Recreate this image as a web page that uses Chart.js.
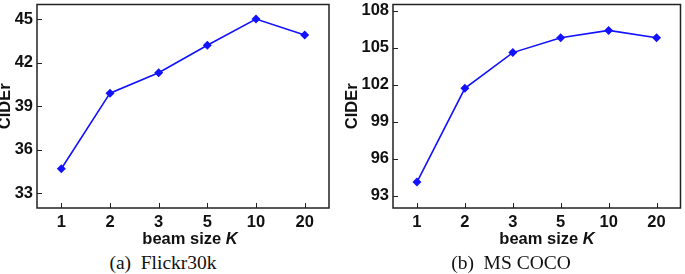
<!DOCTYPE html>
<html>
<head>
<meta charset="utf-8">
<script src="https://cdn.jsdelivr.net/npm/chart.js@4/dist/chart.umd.min.js"></script>
<style>
  html, body { margin:0; padding:0; background:#fff; width:685px; height:274px; overflow:hidden; }
  .wrap { position:absolute; top:0; }
  canvas { display:block; }
  .xlab { position:absolute; font: bold 16.5px "Liberation Sans", Arial, sans-serif; color:#111; white-space:nowrap; transform:translate(-50%,-50%); }
  .cap { position:absolute; font: 19.5px "Liberation Serif", "Times New Roman", serif; color:#111; white-space:nowrap; transform:translate(-50%,-50%); }
</style>
</head>
<body>
<div class="wrap" style="left:0px;width:340px;height:250px"><canvas id="c1" width="340" height="250"></canvas></div>
<div class="wrap" style="left:340px;width:345px;height:250px"><canvas id="c2" width="345" height="250"></canvas></div>
<div class="xlab" style="left:190px;top:238px">beam size <i>K</i></div>
<div class="xlab" style="left:547px;top:238px">beam size <i>K</i></div>
<div class="cap" style="left:163px;top:263px">(a)&nbsp; Flickr30k</div>
<div class="cap" style="left:511px;top:263px">(b)&nbsp; MS COCO</div>
<script>
const beamSizes = ['1', '2', '3', '5', '10', '20'];
const flickrCIDEr = [34.7, 39.9, 41.3, 43.2, 45.0, 43.9];
const cocoCIDEr = [94.1, 101.7, 104.6, 105.8, 106.4, 105.8];
const flickrTicks = [33, 36, 39, 42, 45];
const cocoTicks = [93, 96, 99, 102, 105, 108];

const FONT = { family: '"Liberation Sans", Arial, sans-serif', size: 16.5, weight: 'bold' };
const BLUE = 'rgb(18,18,255)';

const boxPlugin = {
  id: 'box',
  afterDraw(chart) {
    const a = chart.chartArea, ctx = chart.ctx;
    ctx.save();
    ctx.strokeStyle = '#222';
    ctx.lineWidth = 1;
    const xs = chart.scales.x, ys = chart.scales.y;
    ctx.beginPath();
    xs.ticks.forEach((t, i) => {
      const px = Math.round(xs.getPixelForTick(i)) + 0.5;
      ctx.moveTo(px, a.bottom); ctx.lineTo(px, a.bottom - 5);
    });
    ys.ticks.forEach((t) => {
      const py = Math.round(ys.getPixelForValue(t.value)) + 0.5;
      ctx.moveTo(a.left, py); ctx.lineTo(a.left + 5, py);
    });
    ctx.stroke();
    ctx.lineWidth = 1.5;
    ctx.strokeRect(a.left, a.top, a.right - a.left, a.bottom - a.top);
    ctx.restore();
  }
};

function makeChart(id, values, ticks, yMin, yMax, yWidth, padRight, titlePad) {
  return new Chart(document.getElementById(id), {
    type: 'line',
    data: {
      labels: beamSizes,
      datasets: [{
        data: values,
        borderColor: BLUE,
        backgroundColor: BLUE,
        borderWidth: 1.6,
        pointStyle: 'rectRot',
        pointRadius: 4.5,
        pointBorderWidth: 0,
        tension: 0,
        fill: false
      }]
    },
    options: {
      responsive: false,
      animation: false,
      devicePixelRatio: 1,
      layout: { padding: { top: 1, right: padRight, left: 0, bottom: 0 } },
      plugins: { legend: { display: false }, tooltip: { enabled: false } },
      scales: {
        x: {
          offset: true,
          grid: { display: false, drawTicks: false },
          border: { display: false },
          ticks: { font: FONT, color: '#111', padding: 5, maxRotation: 0 },
          afterFit(s) { s.height = 42; s.paddingLeft = 0; s.paddingRight = 0; }
        },
        y: {
          min: yMin, max: yMax,
          grid: { display: false, drawTicks: false },
          border: { display: false },
          ticks: { font: FONT, color: '#111', padding: 4 },
          title: { display: true, text: 'CIDEr', font: FONT, color: '#111', padding: { top: titlePad, bottom: 0 } },
          afterBuildTicks(s) { s.ticks = ticks.map(v => ({ value: v })); },
          afterFit(s) { s.width = yWidth; s.paddingTop = 0; s.paddingBottom = 0; }
        }
      }
    },
    plugins: [boxPlugin]
  });
}

makeChart('c1', flickrCIDEr, flickrTicks, 32, 46, 37, 11, -4);
makeChart('c2', cocoCIDEr, cocoTicks, 92, 108.5, 53, 2, 3);
</script>
</body>
</html>
